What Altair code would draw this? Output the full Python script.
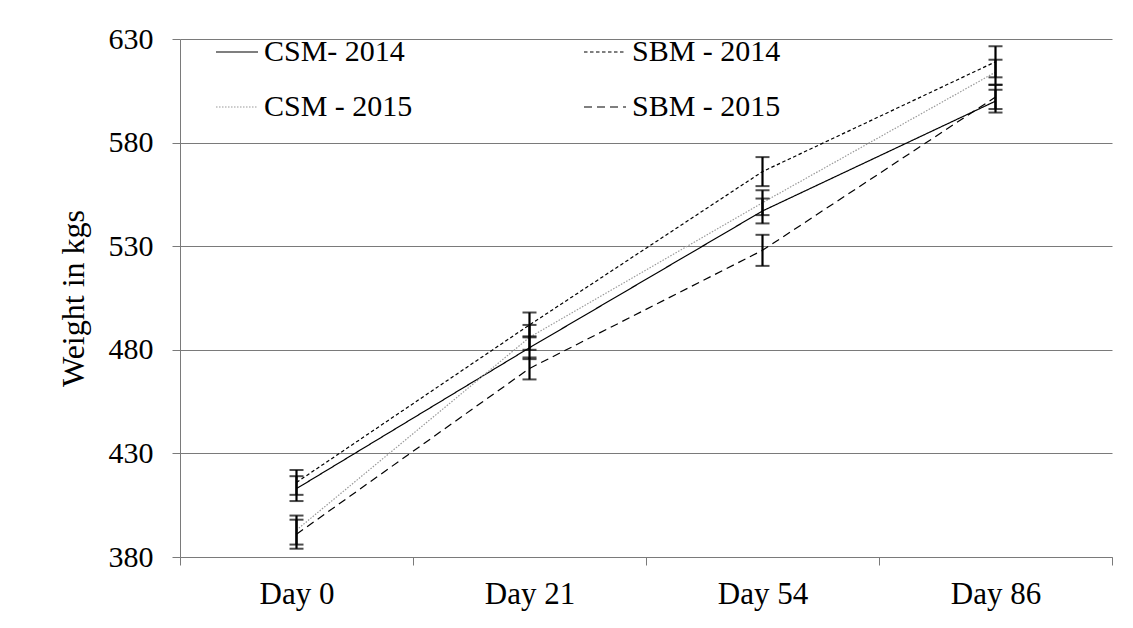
import altair as alt
import pandas as pd
import json

days = ["Day 0", "Day 21", "Day 54", "Day 86"]
# legend is laid out column by column: first column CSM, second column SBM
series = ["CSM- 2014", "CSM - 2015", "SBM - 2014", "SBM - 2015"]

csm_2014 = [413, 481, 547, 600]
csm_2015 = [393, 486, 551, 614]
sbm_2014 = [416, 492, 566, 619]
sbm_2015 = [391, 471, 528, 602]

csm_2014_err = [6, 5.5, 6, 5.5]
csm_2015_err = [7, 6, 6, 6]
sbm_2014_err = [6, 6, 7, 7.5]
sbm_2015_err = [7, 5.3, 7.5, 5.8]

colors = ["#000000", "#999999", "#000000", "#000000"]
dashes = [[1, 0], [1.5, 1.5], [3.5, 2.5], [8, 5]]

rows = []
for name, vals, errs in [
    (series[0], csm_2014, csm_2014_err),
    (series[1], csm_2015, csm_2015_err),
    (series[2], sbm_2014, sbm_2014_err),
    (series[3], sbm_2015, sbm_2015_err),
]:
    for i, (v, e) in enumerate(zip(vals, errs)):
        rows.append({"series": name, "idx": i, "day": days[i], "weight": v,
                     "lo": v - e, "hi": v + e})
df = pd.DataFrame(rows)

FONT = "Liberation Serif"
days_js = json.dumps(days)

x_axis = alt.Axis(
    values=[-0.5, 0, 0.5, 1, 1.5, 2, 2.5, 3, 3.5],
    labelExpr=f"(datum.value % 1 === 0) ? {days_js}[datum.value] : ''",
    tickOpacity={"condition": {"test": "datum.value % 1 !== 0", "value": 1}, "value": 0},
    title=None, grid=False, tickSize=8, labelPadding=14, labelFontSize=31,
    domainColor="#7a7a7a", tickColor="#7a7a7a",
)
y_axis = alt.Axis(
    values=[380, 430, 480, 530, 580, 630], title="Weight in kgs", grid=True,
    gridColor="#7a7a7a", gridWidth=1, tickSize=8, labelPadding=19,
    labelFontSize=30, titleFontSize=32,
    domainColor="#7a7a7a", tickColor="#7a7a7a", titlePadding=18,
)
xs = alt.Scale(domain=[-0.5, 3.5], nice=False, zero=False)
ys = alt.Scale(domain=[380, 630], nice=False, zero=False)

legend = alt.Legend(
    title=None, orient="none", legendX=35, legendY=-9, columns=2,
    columnPadding=168, rowPadding=18, symbolType="stroke", symbolSize=1764,
    symbolStrokeWidth=1.2, labelFont=FONT, labelFontSize=30, labelOffset=5,
    labelLimit=400, labelColor="#000000",
)

base = alt.Chart(df)
lines = base.mark_line(strokeWidth=1.2).encode(
    x=alt.X("idx:Q", scale=xs, axis=x_axis),
    y=alt.Y("weight:Q", scale=ys, axis=y_axis),
    color=alt.Color("series:N", scale=alt.Scale(domain=series, range=colors), legend=legend),
    strokeDash=alt.StrokeDash("series:N", scale=alt.Scale(domain=series, range=dashes), legend=legend),
)
rules = base.mark_rule(color="black", strokeWidth=2.2).encode(
    x=alt.X("idx:Q", scale=xs, axis=x_axis),
    y=alt.Y("lo:Q", scale=ys, axis=y_axis),
    y2="hi:Q",
)
cap_lo = base.mark_tick(orient="horizontal", size=14, thickness=2, color="black").encode(
    x=alt.X("idx:Q", scale=xs, axis=x_axis),
    y=alt.Y("lo:Q", scale=ys, axis=y_axis),
)
cap_hi = base.mark_tick(orient="horizontal", size=14, thickness=2, color="black").encode(
    x=alt.X("idx:Q", scale=xs, axis=x_axis),
    y=alt.Y("hi:Q", scale=ys, axis=y_axis),
)

chart = alt.layer(lines, rules, cap_lo, cap_hi).properties(
    width=932, height=518,
    autosize=alt.AutoSizeParams(type="none"),
    padding={"left": 172, "top": 31, "right": 13, "bottom": 60},
).configure_axis(
    labelFont=FONT, labelColor="#000000",
    titleFont=FONT, titleFontWeight="normal", titleColor="#000000",
).configure_view(stroke=None)

chart.save("out.html", embed_options={"renderer": "svg", "actions": False})
